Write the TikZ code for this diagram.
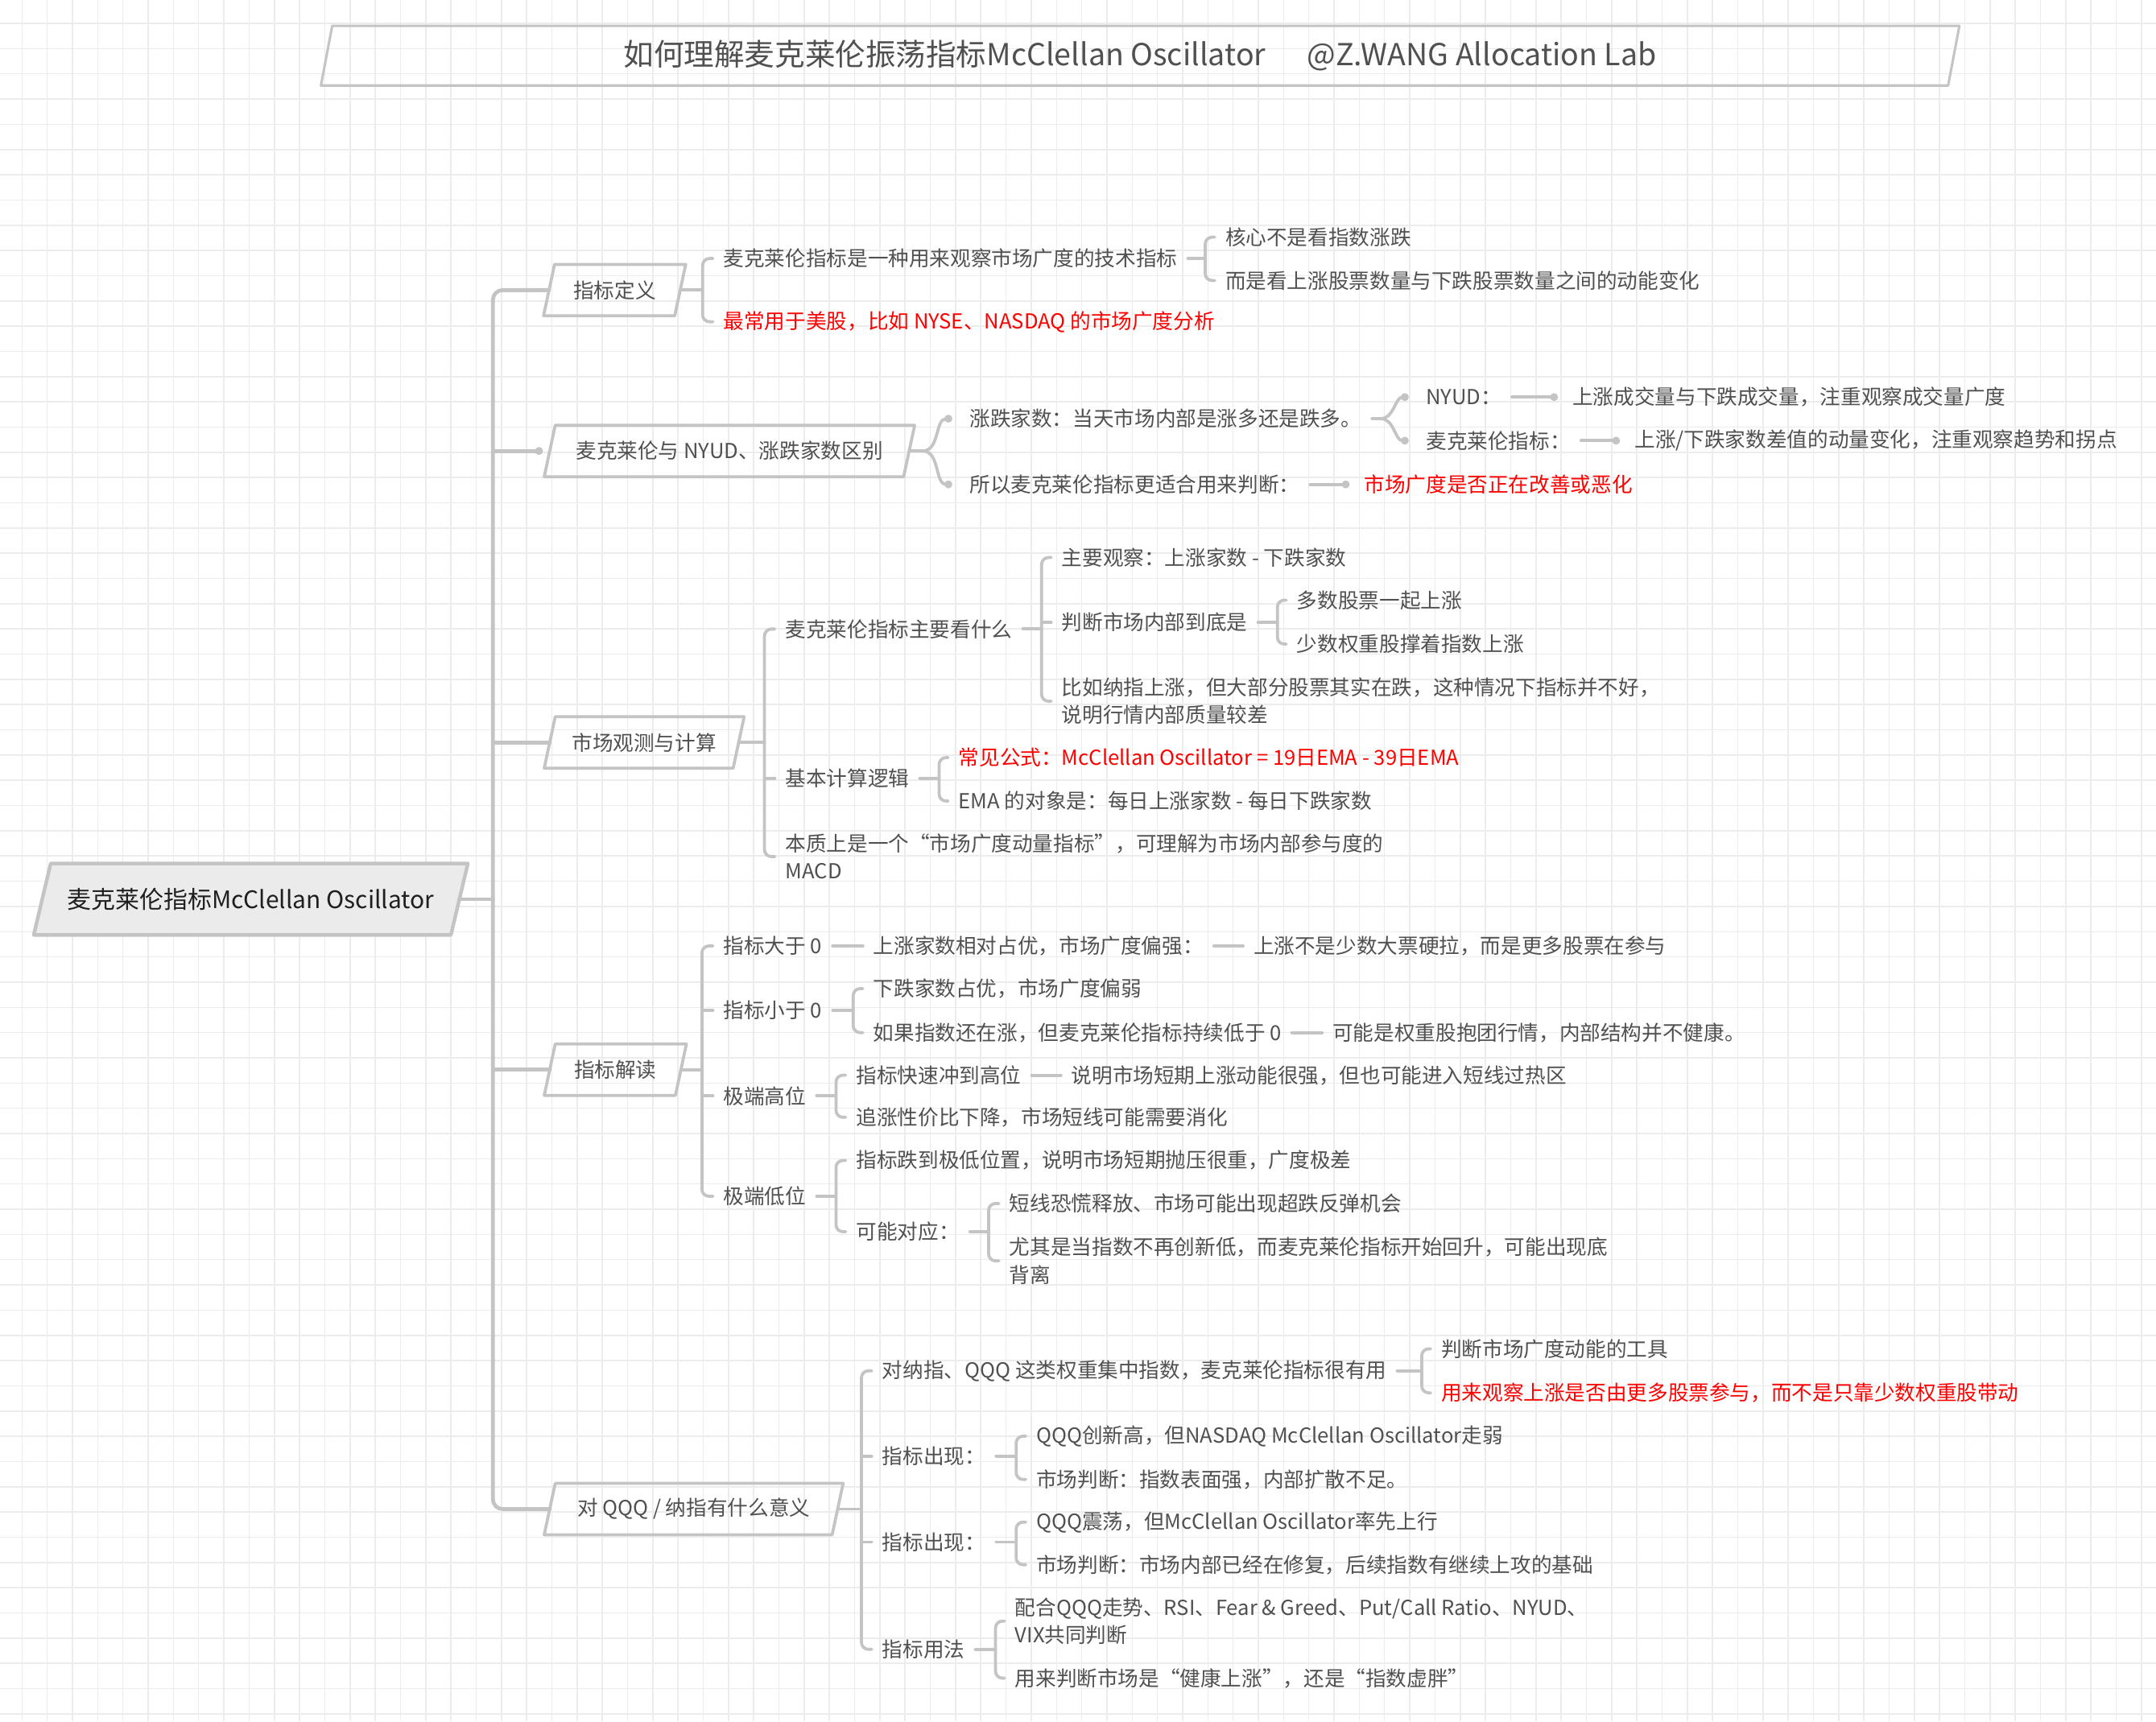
\documentclass[tikz,border=0pt]{standalone}
\usepackage{fontspec}
\setmainfont{Noto Sans CJK SC}
\usetikzlibrary{backgrounds,arrows.meta}
\definecolor{lc}{RGB}{196,196,196}
\definecolor{tc}{RGB}{80,80,80}
\definecolor{gc}{RGB}{236,236,236}
\definecolor{rc}{RGB}{255,0,0}
\definecolor{rootfill}{RGB}{235,235,235}
\newcommand\slantbox[3][]{\draw[#1] ([xshift=#3]#2.north west) -- ([xshift=#3]#2.north east) -- ([xshift=-#3]#2.south east) -- ([xshift=-#3]#2.south west) -- cycle;}
\begin{document}
\begin{tikzpicture}[x=1pt,y=-1pt,
  txt/.style={anchor=west, xshift=-7.5pt, inner xsep=7.5pt, inner ysep=1pt, text=tc, font=\fontsize{15}{20}\selectfont, align=left},
  redtxt/.style={txt, text=rc},
  lone/.style={rectangle, inner sep=0pt, minimum height=37pt, text=tc, font=\fontsize{15}{20}\selectfont},
  conn/.style={draw=lc, line width=2.2pt, rounded corners=5pt, line cap=round},
  spine/.style={draw=lc, line width=2.8pt, rounded corners=7pt, line cap=round},
  sib/.style={draw=lc, line width=2.4pt, line cap=round},
  dotend/.style={-{Circle[length=5.6pt,width=5.6pt]}},
  boxline/.style={draw=lc, line width=2.2pt, line join=round},
  gridline/.style={draw=gc, line width=0.9pt}]
\useasboundingbox (0,0) rectangle (1568,1252);

% title and root
\node[font=\fontsize{22}{26}\selectfont, text=tc, rectangle, inner sep=0pt, minimum width=1183pt, minimum height=43pt] (title) at (829.2,40.5) {如何理解麦克莱伦振荡指标McClellan Oscillator\hspace{30pt}@Z.WANG Allocation Lab};
\node[font=\fontsize{17.5}{21}\selectfont, text=black!88, rectangle, inner sep=0pt, minimum width=303pt, minimum height=51.5pt] (root) at (182.4,654) {麦克莱伦指标McClellan Oscillator};

% level 1 boxes
\node[lone, minimum width=95pt] (b1) at (447,211) {指标定义};
\node[lone, minimum width=261pt] (b2) at (530.5,328) {麦克莱伦与 NYUD、涨跌家数区别};
\node[lone, minimum width=137pt] (b3) at (468.5,540) {市场观测与计算};
\node[lone, minimum width=95pt] (b4) at (447.5,778) {指标解读};
\node[lone, minimum width=209pt] (b5) at (504.5,1097.5) {对 QQQ / 纳指有什么意义};

\begin{scope}[on background layer]
  \fill[white] (0,0) rectangle (1568,1252);
  \foreach \i in {0,...,84} \draw[gridline] ({16+\i*18.35},0) -- ({16+\i*18.35},1252);
  \foreach \j in {0,...,67} \draw[gridline] (0,{17+\j*18.35}) -- (1568,{17+\j*18.35});
  \slantbox[boxline, line width=1.8pt]{title}{4.1pt}
  \slantbox[boxline, fill=rootfill, line width=2.6pt]{root}{6.15pt}
  \slantbox[boxline]{b1}{4pt}
  \slantbox[boxline]{b2}{4pt}
  \slantbox[boxline]{b3}{4pt}
  \slantbox[boxline]{b4}{4pt}
  \slantbox[boxline]{b5}{4pt}
\end{scope}

% spine
\coordinate (sp) at (358.5,654);
\draw[spine] (b1.west) -| (sp) |- (b5.west);
\draw[spine] (root.east) -- (sp);
\draw[spine, dotend] (b2.west -| sp) -- ([xshift=-5pt]b2.west);
\draw[spine] (b3.west -| sp) -- (b3.west);
\draw[spine] (b4.west -| sp) -- (b4.west);

% ---------- branch 1
\node[txt] (n1a) at (526,188) {麦克莱伦指标是一种用来观察市场广度的技术指标};
\node[txt] (n1a1) at (891,172.5) {核心不是看指数涨跌};
\node[txt] (n1a2) at (891,204) {而是看上涨股票数量与下跌股票数量之间的动能变化};
\node[redtxt] (n1b) at (526,234) {最常用于美股，比如 NYSE、NASDAQ 的市场广度分析};
\coordinate (j1) at (511,211);
\coordinate (j1a) at (876.5,188);
\draw[conn] (b1.east) -- (j1);
\draw[conn] (n1a.west) -| (j1) |- (n1b.west);
\draw[conn] (n1a.east) -- (j1a);
\draw[conn] (n1a1.west) -| (j1a) |- (n1a2.west);

% ---------- branch 2
\node[txt] (n2a) at (705,304.5) {涨跌家数：当天市场内部是涨多还是跌多。};
\node[txt] (n2a1) at (1037,288.8) {NYUD：};
\node[txt] (n2a1r) at (1143.5,288.8) {上涨成交量与下跌成交量，注重观察成交量广度};
\node[txt] (n2a2) at (1037,320.5) {麦克莱伦指标：};
\node[txt] (n2a2r) at (1188.6,320.5) {上涨/下跌家数差值的动量变化，注重观察趋势和拐点};
\node[txt] (n2b) at (705,352.3) {所以麦克莱伦指标更适合用来判断：};
\node[redtxt] (n2br) at (992,352.3) {市场广度是否正在改善或恶化};
\coordinate (j2) at (671,328);
\coordinate (j2a) at (1004,304.5);
\draw[conn] (b2.east) -- (j2);
\draw[conn, dotend] (j2) to[out=0,in=180] ([xshift=-5pt]n2a.west);
\draw[conn, dotend] (j2) to[out=0,in=180] ([xshift=-5pt]n2b.west);
\draw[conn] (n2a.east) -- (j2a);
\draw[conn, dotend] (j2a) to[out=0,in=180] ([xshift=-5pt]n2a1.west);
\draw[conn, dotend] (j2a) to[out=0,in=180] ([xshift=-5pt]n2a2.west);
\draw[sib, dotend] (n2a1.east) -- ([xshift=-3pt]n2a1r.west);
\draw[sib, dotend] (n2a2.east) -- ([xshift=-3pt]n2a2r.west);
\draw[sib, dotend] (n2b.east) -- ([xshift=-3pt]n2br.west);

% ---------- branch 3
\node[txt] (n3a) at (571,457.5) {麦克莱伦指标主要看什么};
\node[txt] (n3a1) at (772,405.5) {主要观察：上涨家数 - 下跌家数};
\node[txt] (n3a2) at (772,452.7) {判断市场内部到底是};
\node[txt] (n3a2a) at (943,436.5) {多数股票一起上涨};
\node[txt] (n3a2b) at (943,468.4) {少数权重股撑着指数上涨};
\node[txt] (n3a3) at (772,510) {比如纳指上涨，但大部分股票其实在跌，这种情况下指标并不好，\\说明行情内部质量较差};
\node[txt] (n3b) at (571,566) {基本计算逻辑};
\node[redtxt] (n3b1) at (697,551) {常见公式：McClellan Oscillator = 19日EMA - 39日EMA};
\node[txt] (n3b2) at (697,582.6) {EMA 的对象是：每日上涨家数 - 每日下跌家数};
\node[txt] (n3c) at (571,623) {本质上是一个“市场广度动量指标”，可理解为市场内部参与度的\\MACD};
\coordinate (j3) at (556,540);
\coordinate (j3a) at (757.5,457.5);
\coordinate (j3a2) at (929,452.7);
\coordinate (j3b) at (683,566);
\draw[conn] (b3.east) -- (j3);
\draw[conn] (n3a.west) -| (j3) |- (n3c.west);
\draw[conn] (n3b.west -| j3) -- (n3b.west);
\draw[conn] (n3a.east) -- (j3a);
\draw[conn] (n3a1.west) -| (j3a) |- (n3a3.west);
\draw[conn] (n3a2.west -| j3a) -- (n3a2.west);
\draw[conn] (n3a2.east) -- (j3a2);
\draw[conn] (n3a2a.west) -| (j3a2) |- (n3a2b.west);
\draw[conn] (n3b.east) -- (j3b);
\draw[conn] (n3b1.west) -| (j3b) |- (n3b2.west);

% ---------- branch 4
\node[txt] (n4a) at (526,688) {指标大于 0};
\node[txt] (n4a2) at (635,688) {上涨家数相对占优，市场广度偏强：};
\node[txt] (n4a3) at (911.5,688) {上涨不是少数大票硬拉，而是更多股票在参与};
\node[txt] (n4b) at (526,734.8) {指标小于 0};
\node[txt] (n4b1) at (635,719) {下跌家数占优，市场广度偏弱};
\node[txt] (n4b2) at (635,751) {如果指数还在涨，但麦克莱伦指标持续低于 0};
\node[txt] (n4b2r) at (969,751) {可能是权重股抱团行情，内部结构并不健康。};
\node[txt] (n4c) at (526,797) {极端高位};
\node[txt] (n4c1) at (622.5,782) {指标快速冲到高位};
\node[txt] (n4c1r) at (779,782) {说明市场短期上涨动能很强，但也可能进入短线过热区};
\node[txt] (n4c2) at (622.5,812.6) {追涨性价比下降，市场短线可能需要消化};
\node[txt] (n4d) at (526,870) {极端低位};
\node[txt] (n4d1) at (622.5,844) {指标跌到极低位置，说明市场短期抛压很重，广度极差};
\node[txt] (n4d2) at (622.5,895.8) {可能对应：};
\node[txt] (n4d2a) at (734,875.3) {短线恐慌释放、市场可能出现超跌反弹机会};
\node[txt] (n4d2b) at (734,917) {尤其是当指数不再创新低，而麦克莱伦指标开始回升，可能出现底\\背离};
\coordinate (j4) at (510.5,778);
\coordinate (j4b) at (620.5,734.8);
\coordinate (j4c) at (608,797);
\coordinate (j4d) at (608,870);
\coordinate (j4d2) at (719,895.8);
\draw[conn] (b4.east) -- (j4);
\draw[conn] (n4a.west) -| (j4) |- (n4d.west);
\draw[conn] (n4b.west -| j4) -- (n4b.west);
\draw[conn] (n4c.west -| j4) -- (n4c.west);
\draw[sib] (n4a.east) -- (n4a2.west);
\draw[sib] (n4a2.east) -- (n4a3.west);
\draw[conn] (n4b.east) -- (j4b);
\draw[conn] (n4b1.west) -| (j4b) |- (n4b2.west);
\draw[sib] (n4b2.east) -- (n4b2r.west);
\draw[conn] (n4c.east) -- (j4c);
\draw[conn] (n4c1.west) -| (j4c) |- (n4c2.west);
\draw[sib] (n4c1.east) -- (n4c1r.west);
\draw[conn] (n4d.east) -- (j4d);
\draw[conn] (n4d1.west) -| (j4d) |- (n4d2.west);
\draw[conn] (n4d2.east) -- (j4d2);
\draw[conn] (n4d2a.west) -| (j4d2) |- (n4d2b.west);

% ---------- branch 5
\node[txt] (n5a) at (641.5,997) {对纳指、QQQ 这类权重集中指数，麦克莱伦指标很有用};
\node[txt] (n5a1) at (1048,981) {判断市场广度动能的工具};
\node[redtxt] (n5a2) at (1048,1013) {用来观察上涨是否由更多股票参与，而不是只靠少数权重股带动};
\node[txt] (n5b) at (641.5,1059) {指标出现：};
\node[txt] (n5b1) at (753.5,1044.5) {QQQ创新高，但NASDAQ McClellan Oscillator走弱};
\node[txt] (n5b2) at (753.5,1076) {市场判断：指数表面强，内部扩散不足。};
\node[txt] (n5c) at (641.5,1121.5) {指标出现：};
\node[txt] (n5c1) at (753.5,1107) {QQQ震荡，但McClellan Oscillator率先上行};
\node[txt] (n5c2) at (753.5,1138) {市场判断：市场内部已经在修复，后续指数有继续上攻的基础};
\node[txt] (n5d) at (641.5,1199.5) {指标用法};
\node[txt] (n5d1) at (738,1179) {配合QQQ走势、RSI、Fear \& Greed、Put/Call Ratio、NYUD、\\VIX共同判断};
\node[txt] (n5d2) at (738,1220.5) {用来判断市场是“健康上涨”，还是“指数虚胖”};
\coordinate (j5) at (626.5,1097.5);
\coordinate (j5a) at (1034,997);
\coordinate (j5b) at (739,1059);
\coordinate (j5c) at (739,1121.5);
\coordinate (j5d) at (724,1199.5);
\draw[conn] (b5.east) -- (j5);
\draw[conn] (n5a.west) -| (j5) |- (n5d.west);
\draw[conn] (n5b.west -| j5) -- (n5b.west);
\draw[conn] (n5c.west -| j5) -- (n5c.west);
\draw[conn] (n5a.east) -- (j5a);
\draw[conn] (n5a1.west) -| (j5a) |- (n5a2.west);
\draw[conn] (n5b.east) -- (j5b);
\draw[conn] (n5b1.west) -| (j5b) |- (n5b2.west);
\draw[conn] (n5c.east) -- (j5c);
\draw[conn] (n5c1.west) -| (j5c) |- (n5c2.west);
\draw[conn] (n5d.east) -- (j5d);
\draw[conn] (n5d1.west) -| (j5d) |- (n5d2.west);
\end{tikzpicture}
\end{document}
